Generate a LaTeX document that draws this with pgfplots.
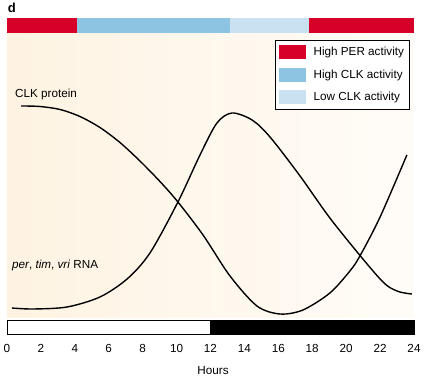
\documentclass[border=0pt]{standalone}
\usepackage{pgfplots}
\pgfplotsset{compat=1.18}
\usepackage{fontspec}
\setmainfont{Liberation Sans}
\definecolor{pred}{RGB}{214,0,40}
\definecolor{cblue}{RGB}{141,196,226}
\definecolor{lblue}{RGB}{201,225,241}
\definecolor{peach}{RGB}{254,243,226}
\definecolor{peachr}{RGB}{255,252,248}
\begin{document}
\begin{tikzpicture}
\path[use as bounding box] (-7bp,-45bp) rectangle (432bp,335bp);
\begin{axis}[
  at={(0,0)}, anchor=south west,
  scale only axis, width=407bp, height=317bp,
  xmin=0, xmax=24, ymin=45, ymax=362,
  clip=false,
  axis line style={draw=none},
  tick style={draw=none},
  ytick=\empty,
  xtick={0,2,...,24},
  xticklabel style={yshift=-6bp},
  font=\fontsize{11.7bp}{14bp}\selectfont,
  ticklabel style={font=\fontsize{11.7bp}{14bp}\selectfont},
  /pgf/number format/assume math mode=true,
  legend style={at={(0.990,0.9306)}, anchor=north east, draw=black, line width=0.9pt,
    inner xsep=4bp, inner ysep=5bp, row sep=8.5bp,
    font=\fontsize{11.7bp}{14bp}\selectfont,
    nodes={inner sep=1.5bp, anchor=west}},
  legend cell align=left,
  legend image code/.code={\fill[#1] (0bp,-7bp) rectangle (27bp,7bp); \path (33bp,0bp);},
]
% background
\fill[left color=peach, right color=peachr] (axis cs:0,62) rectangle (axis cs:24,347);
% top activity bar
\addplot[fill=pred, draw=none] coordinates {(0,347) (4.13,347) (4.13,362) (0,362)} -- cycle;
\addlegendentry{High PER activity}
\addplot[fill=cblue, draw=none] coordinates {(4.13,347) (13.15,347) (13.15,362) (4.13,362)} -- cycle;
\addlegendentry{High CLK activity}
\addplot[fill=lblue, draw=none] coordinates {(13.15,347) (17.81,347) (17.81,362) (13.15,362)} -- cycle;
\addlegendentry{Low CLK activity}
\addplot[fill=pred, draw=none, forget plot] coordinates {(17.81,347) (24,347) (24,362) (17.81,362)} -- cycle;
% light/dark bar
\addplot[fill=white, draw=black, line width=0.8pt, forget plot] coordinates {(0,45.5) (12,45.5) (12,59.5) (0,59.5)} -- cycle;
\addplot[fill=black, draw=black, line width=0.8pt, forget plot] coordinates {(12,45.5) (24,45.5) (24,59.5) (12,59.5)} -- cycle;
% CLK protein
\addplot[black, line width=1.4pt, smooth, forget plot] coordinates {
(0.83,274) (1.95,273.5) (3.13,270.5) (4.30,263.5) (5.48,252.5) (6.66,237.5) (7.84,219)
(9.02,198.5) (10.08,178) (11.56,145) (13.15,104) (14.74,74) (16.10,66) (17.45,70) (19.04,87)
(20.22,109) (20.81,124) (22.0,163) (23.58,225)};
% per, tim, vri RNA
\addplot[black, line width=1.4pt, smooth, forget plot] coordinates {
(0.29,72) (1.53,71) (3.54,73) (5.48,83) (7.08,101) (8.43,127)
(10.08,178) (11.38,225) (12.38,257) (13.27,267) (14.45,260) (15.51,243)
(17.28,204) (19.22,158) (22.0,101) (23.0,89) (23.88,86)};
% labels
\node[anchor=west, inner sep=0pt] at (axis cs:0.47,286) {CLK protein};
\node[anchor=west, inner sep=0pt] at (axis cs:0.29,115) {\textit{per}, \textit{tim}, \textit{vri} RNA};
\node[anchor=west, inner sep=0pt, font=\fontsize{13bp}{15bp}\selectfont\bfseries] at (axis cs:0.04,372) {d};
\node[inner sep=0pt] at (axis cs:12.15,9) {Hours};
\end{axis}
\end{tikzpicture}
\end{document}
